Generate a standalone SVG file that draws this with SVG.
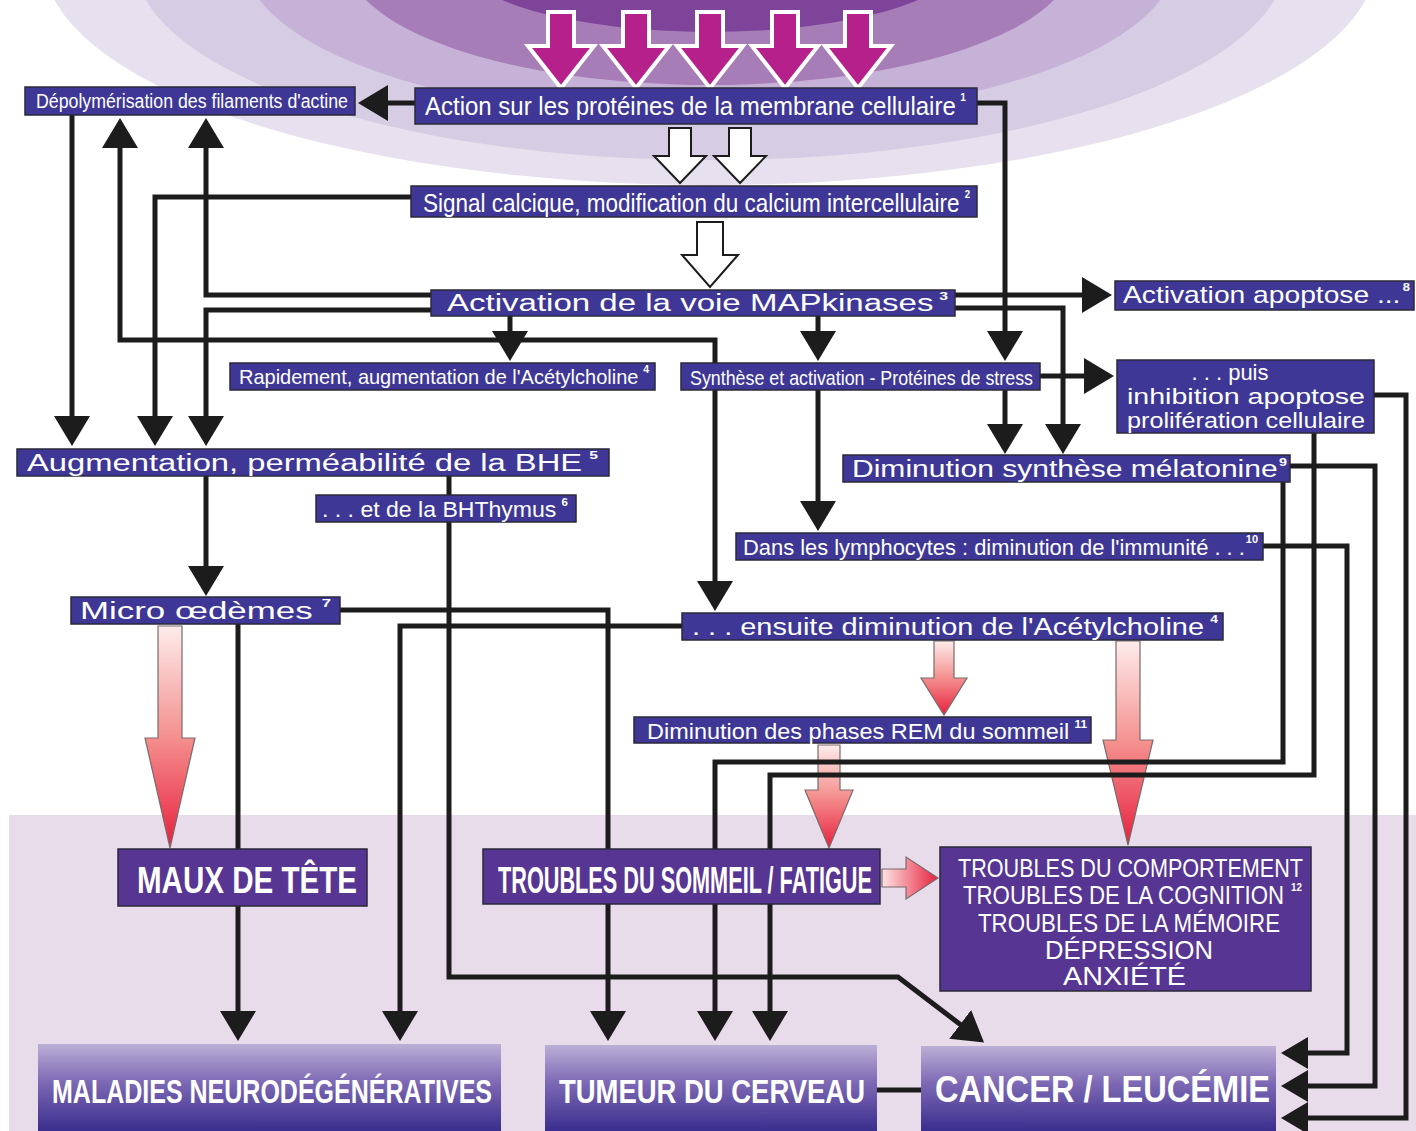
<svg xmlns="http://www.w3.org/2000/svg" width="1416" height="1131" viewBox="0 0 1416 1131">
<defs>
<style>
.bx{fill:#3e3796;stroke:#2a2a3a;stroke-width:1.5}
.bb{fill:#573592;stroke:#2a2a3a;stroke-width:1.5}
.bg{fill:url(#gBottom)}
.t{font-family:"Liberation Sans",Arial,sans-serif;fill:#ffffff}
.tb{font-family:"Liberation Sans",Arial,sans-serif;fill:#ffffff;font-weight:bold}
.sp{font-size:11px;font-weight:bold}
.ln{fill:none;stroke:#1c1c1c;stroke-width:5;stroke-linejoin:miter}
.ar{marker-end:url(#ah)}
.ar2{marker-end:url(#ah2)}
.red{fill:url(#gRed);stroke:#7a6a6a;stroke-width:1.2}
.redh{fill:url(#gRedH);stroke:#7a6a6a;stroke-width:1.2}
.wh{fill:#ffffff;stroke:#1c1c1c;stroke-width:2}
.mg{fill:#b5208b;stroke:#ffffff;stroke-width:4;stroke-linejoin:miter}
</style>
<linearGradient id="gBottom" x1="0" y1="0" x2="0" y2="1">
<stop offset="0" stop-color="#bbafd6"/>
<stop offset="0.45" stop-color="#7b67b3"/>
<stop offset="1" stop-color="#3a2e8e"/>
</linearGradient>
<linearGradient id="gRed" x1="0" y1="0" x2="0" y2="1">
<stop offset="0" stop-color="#fdeceb"/>
<stop offset="0.5" stop-color="#f4908e"/>
<stop offset="1" stop-color="#e8203e"/>
</linearGradient>
<linearGradient id="gRedH" x1="0" y1="0" x2="1" y2="0">
<stop offset="0" stop-color="#fde4e3"/>
<stop offset="1" stop-color="#e8203e"/>
</linearGradient>
<marker id="ah" viewBox="0 0 30 36" refX="1" refY="18" markerWidth="30" markerHeight="36" markerUnits="userSpaceOnUse" orient="auto-start-reverse">
<path d="M0,0 L30,18 L0,36 Z" fill="#1c1c1c"/>
</marker>
<marker id="ah2" viewBox="0 0 27 32" refX="1" refY="16" markerWidth="27" markerHeight="32" markerUnits="userSpaceOnUse" orient="auto">
<path d="M0,0 L27,16 L0,32 Z" fill="#1c1c1c"/>
</marker>
</defs>

<g id="background">
<rect x="0" y="0" width="1416" height="1131" fill="#ffffff"/>
<ellipse cx="710" cy="-40" rx="666" ry="225" fill="#e7e0ee"/>
<ellipse cx="710" cy="-40" rx="576" ry="200" fill="#d6cce3"/>
<ellipse cx="710" cy="-40" rx="465" ry="160" fill="#c5b2d6"/>
<ellipse cx="710" cy="-40" rx="363" ry="125" fill="#a77db8"/>
<ellipse cx="710" cy="-40" rx="250" ry="72" fill="#7e4499"/>
<rect x="9" y="815" width="1407" height="316" fill="#e8dbea"/>
</g>

<g id="connectors">
<polygon class="mg" points="548,12 574,12 574,46 594,46 561,88 528,46 548,46"/>
<polygon class="mg" points="623,12 649,12 649,46 669,46 636,88 603,46 623,46"/>
<polygon class="mg" points="697,12 723,12 723,46 743,46 710,88 677,46 697,46"/>
<polygon class="mg" points="772,12 798,12 798,46 818,46 785,88 752,46 772,46"/>
<polygon class="mg" points="845,12 871,12 871,46 891,46 858,88 825,46 845,46"/>
<polygon class="wh" points="669,128 691,128 691,156 706,156 680,183 654,156 669,156"/>
<polygon class="wh" points="729,128 751,128 751,156 766,156 740,183 714,156 729,156"/>
<polygon class="wh" points="697,222 723,222 723,255 738,255 710,287 682,255 697,255"/>
<polygon class="red" points="158,626 182,626 182,738 195,738 170,848 145,738 158,738"/>
<polygon class="red" points="934,641 954,641 954,678 967,678 944,715 921,678 934,678"/>
<polygon class="red" points="1116,641 1140,641 1140,740 1153,740 1128,845 1103,740 1116,740"/>
<polygon class="red" points="818,745 840,745 840,790 853,790 829,848 805,790 818,790"/>
<polygon class="redh" points="882,869 906,869 906,857 938,878 906,899 906,887 882,887"/>
<path class="ln ar" d="M415,103 H387"/>
<path class="ln ar" d="M977,103 H1005 V332"/>
<path class="ln ar" d="M411,197 H155 V417"/>
<path class="ln ar" d="M72,115 V417"/>
<path class="ln ar" d="M431,295 H206 V147"/>
<path class="ln ar" d="M431,310 H206 V417"/>
<path class="ln ar" d="M120,147 V340 H715 V582" marker-start="url(#ah)"/>
<path class="ln ar" d="M510,316 V332"/>
<path class="ln ar" d="M818,316 V332"/>
<path class="ln ar" d="M955,295 H1083"/>
<path class="ln ar" d="M955,308 H1063 V425"/>
<path class="ln ar" d="M1040,376 H1085"/>
<path class="ln ar" d="M818,390 V502"/>
<path class="ln ar" d="M1005,390 V425"/>
<path class="ln ar2" d="M1374,395 H1406 V1118 H1307"/>
<path class="ln ar" d="M1314,433 V775 H770 V1012"/>
<path class="ln ar2" d="M1290,466 H1375 V1086 H1307"/>
<path class="ln ar" d="M1283,482 V762 H715 V1012"/>
<path class="ln ar2" d="M1263,546 H1347 V1053 H1307"/>
<path class="ln ar" d="M206,476 V567"/>
<path class="ln" d="M449,476 V495"/>
<path class="ln ar" d="M449,522 V977 H898 L961,1025"/>
<path class="ln ar" d="M340,610 H608 V1012"/>
<path class="ln" d="M238,624 V849"/>
<path class="ln ar" d="M238,906 V1012"/>
<path class="ln ar" d="M682,626 H400 V1012"/>
<path class="ln" d="M877,1090 H921"/>
</g>

<g id="n-depolym">
<rect class="bx" x="25" y="87" width="330" height="28"/>
<text class="t" x="36" y="108" font-size="20" textLength="312" lengthAdjust="spacingAndGlyphs">Dépolymérisation des filaments d'actine</text>
</g>
<g id="n-action">
<rect class="bx" x="415" y="88" width="562" height="36"/>
<text class="t" x="425" y="115" font-size="26" textLength="541" lengthAdjust="spacingAndGlyphs">Action sur les protéines de la membrane cellulaire<tspan class="sp" dx="5" dy="-14">1</tspan></text>
</g>
<g id="n-signal">
<rect class="bx" x="411" y="186" width="566" height="31"/>
<text class="t" x="423" y="212" font-size="26" textLength="547" lengthAdjust="spacingAndGlyphs">Signal calcique, modification du calcium intercellulaire<tspan class="sp" dx="6" dy="-14">2</tspan></text>
</g>
<g id="n-mapk">
<rect class="bx" x="431" y="290" width="524" height="26"/>
<text class="t" x="447" y="311" font-size="23" textLength="501" lengthAdjust="spacingAndGlyphs">Activation de la voie MAPkinases<tspan class="sp" dx="4" dy="-11">3</tspan></text>
</g>
<g id="n-apoptose">
<rect class="bx" x="1115" y="281" width="299" height="29"/>
<text class="t" x="1123" y="303" font-size="24" textLength="287" lengthAdjust="spacingAndGlyphs">Activation apoptose ...<tspan class="sp" dx="2" dy="-12">8</tspan></text>
</g>
<g id="n-rapidement">
<rect class="bx" x="230" y="363" width="425" height="27"/>
<text class="t" x="239" y="384" font-size="21" textLength="410" lengthAdjust="spacingAndGlyphs">Rapidement, augmentation de l'Acétylcholine<tspan class="sp" dx="5" dy="-11">4</tspan></text>
</g>
<g id="n-synthese">
<rect class="bx" x="681" y="363" width="359" height="27"/>
<text class="t" x="690" y="385" font-size="21" textLength="343" lengthAdjust="spacingAndGlyphs">Synthèse et activation - Protéines de stress</text>
</g>
<g id="n-puis">
<rect class="bx" x="1117" y="360" width="257" height="73"/>
<text class="t" x="1230" y="380" font-size="22" text-anchor="middle">. . .  puis</text>
<text class="t" x="1127" y="404" font-size="22" textLength="238" lengthAdjust="spacingAndGlyphs">inhibition apoptose</text>
<text class="t" x="1127" y="428" font-size="22" textLength="238" lengthAdjust="spacingAndGlyphs">prolifération cellulaire</text>
</g>
<g id="n-augmentation">
<rect class="bx" x="17" y="449" width="592" height="27"/>
<text class="t" x="27" y="471" font-size="23" textLength="571" lengthAdjust="spacingAndGlyphs">Augmentation, perméabilité de la BHE<tspan class="sp" dx="5" dy="-12">5</tspan></text>
</g>
<g id="n-melatonine">
<rect class="bx" x="843" y="455" width="447" height="27"/>
<text class="t" x="852" y="477" font-size="23" textLength="435" lengthAdjust="spacingAndGlyphs">Diminution synthèse mélatonine<tspan class="sp" dx="1" dy="-11">9</tspan></text>
</g>
<g id="n-bhthymus">
<rect class="bx" x="316" y="495" width="260" height="27"/>
<text class="t" x="322" y="517" font-size="22" textLength="246" lengthAdjust="spacingAndGlyphs">. . . et de la BHThymus<tspan class="sp" dx="5" dy="-11">6</tspan></text>
</g>
<g id="n-lymphocytes">
<rect class="bx" x="736" y="533" width="527" height="27"/>
<text class="t" x="743" y="555" font-size="22" textLength="515" lengthAdjust="spacingAndGlyphs">Dans les lymphocytes : diminution de l'immunité . . .<tspan class="sp" dx="1" dy="-12">10</tspan></text>
</g>
<g id="n-micro">
<rect class="bx" x="71" y="597" width="269" height="27"/>
<text class="t" x="80" y="619" font-size="23" textLength="251" lengthAdjust="spacingAndGlyphs">Micro œdèmes<tspan class="sp" dx="6" dy="-12">7</tspan></text>
</g>
<g id="n-ensuite">
<rect class="bx" x="682" y="613" width="541" height="27"/>
<text class="t" x="692" y="635" font-size="23" textLength="526" lengthAdjust="spacingAndGlyphs">. . . ensuite diminution de l'Acétylcholine<tspan class="sp" dx="5" dy="-12">4</tspan></text>
</g>
<g id="n-rem">
<rect class="bx" x="634" y="717" width="457" height="26"/>
<text class="t" x="647" y="739" font-size="22" textLength="440" lengthAdjust="spacingAndGlyphs">Diminution des phases REM du sommeil<tspan class="sp" dx="5" dy="-11">11</tspan></text>
</g>
<g id="n-maux">
<rect class="bb" x="118" y="849" width="249" height="57"/>
<text class="tb" x="137" y="893" font-size="36" textLength="220" lengthAdjust="spacingAndGlyphs">MAUX  DE  TÊTE</text>
</g>
<g id="n-sommeil">
<rect class="bb" x="483" y="849" width="397" height="55"/>
<text class="tb" x="498" y="893" font-size="36" textLength="374" lengthAdjust="spacingAndGlyphs">TROUBLES  DU  SOMMEIL  /  FATIGUE</text>
</g>
<g id="n-comportement">
<rect class="bb" x="940" y="847" width="371" height="144"/>
<text class="t" x="958" y="877" font-size="25" textLength="345" lengthAdjust="spacingAndGlyphs">TROUBLES  DU  COMPORTEMENT</text>
<text class="t" x="963" y="904" font-size="25" textLength="339" lengthAdjust="spacingAndGlyphs">TROUBLES  DE  LA  COGNITION<tspan class="sp" dx="8" dy="-13">12</tspan></text>
<text class="t" x="978" y="932" font-size="25" textLength="302" lengthAdjust="spacingAndGlyphs">TROUBLES  DE  LA  MÉMOIRE</text>
<text class="t" x="1045" y="959" font-size="25" textLength="168" lengthAdjust="spacingAndGlyphs">DÉPRESSION</text>
<text class="t" x="1063" y="985" font-size="25" textLength="123" lengthAdjust="spacingAndGlyphs">ANXIÉTÉ</text>
</g>
<g id="n-maladies">
<rect class="bg" x="38" y="1044" width="463" height="87"/>
<text class="tb" x="52" y="1103" font-size="34" textLength="440" lengthAdjust="spacingAndGlyphs">MALADIES NEURODÉGÉNÉRATIVES</text>
</g>
<g id="n-tumeur">
<rect class="bg" x="545" y="1045" width="332" height="86"/>
<text class="tb" x="559" y="1103" font-size="34" textLength="306" lengthAdjust="spacingAndGlyphs">TUMEUR DU CERVEAU</text>
</g>
<g id="n-cancer">
<rect class="bg" x="921" y="1046" width="355" height="85"/>
<text class="tb" x="935" y="1102" font-size="36" textLength="335" lengthAdjust="spacingAndGlyphs">CANCER / LEUCÉMIE</text>
</g>
</svg>
